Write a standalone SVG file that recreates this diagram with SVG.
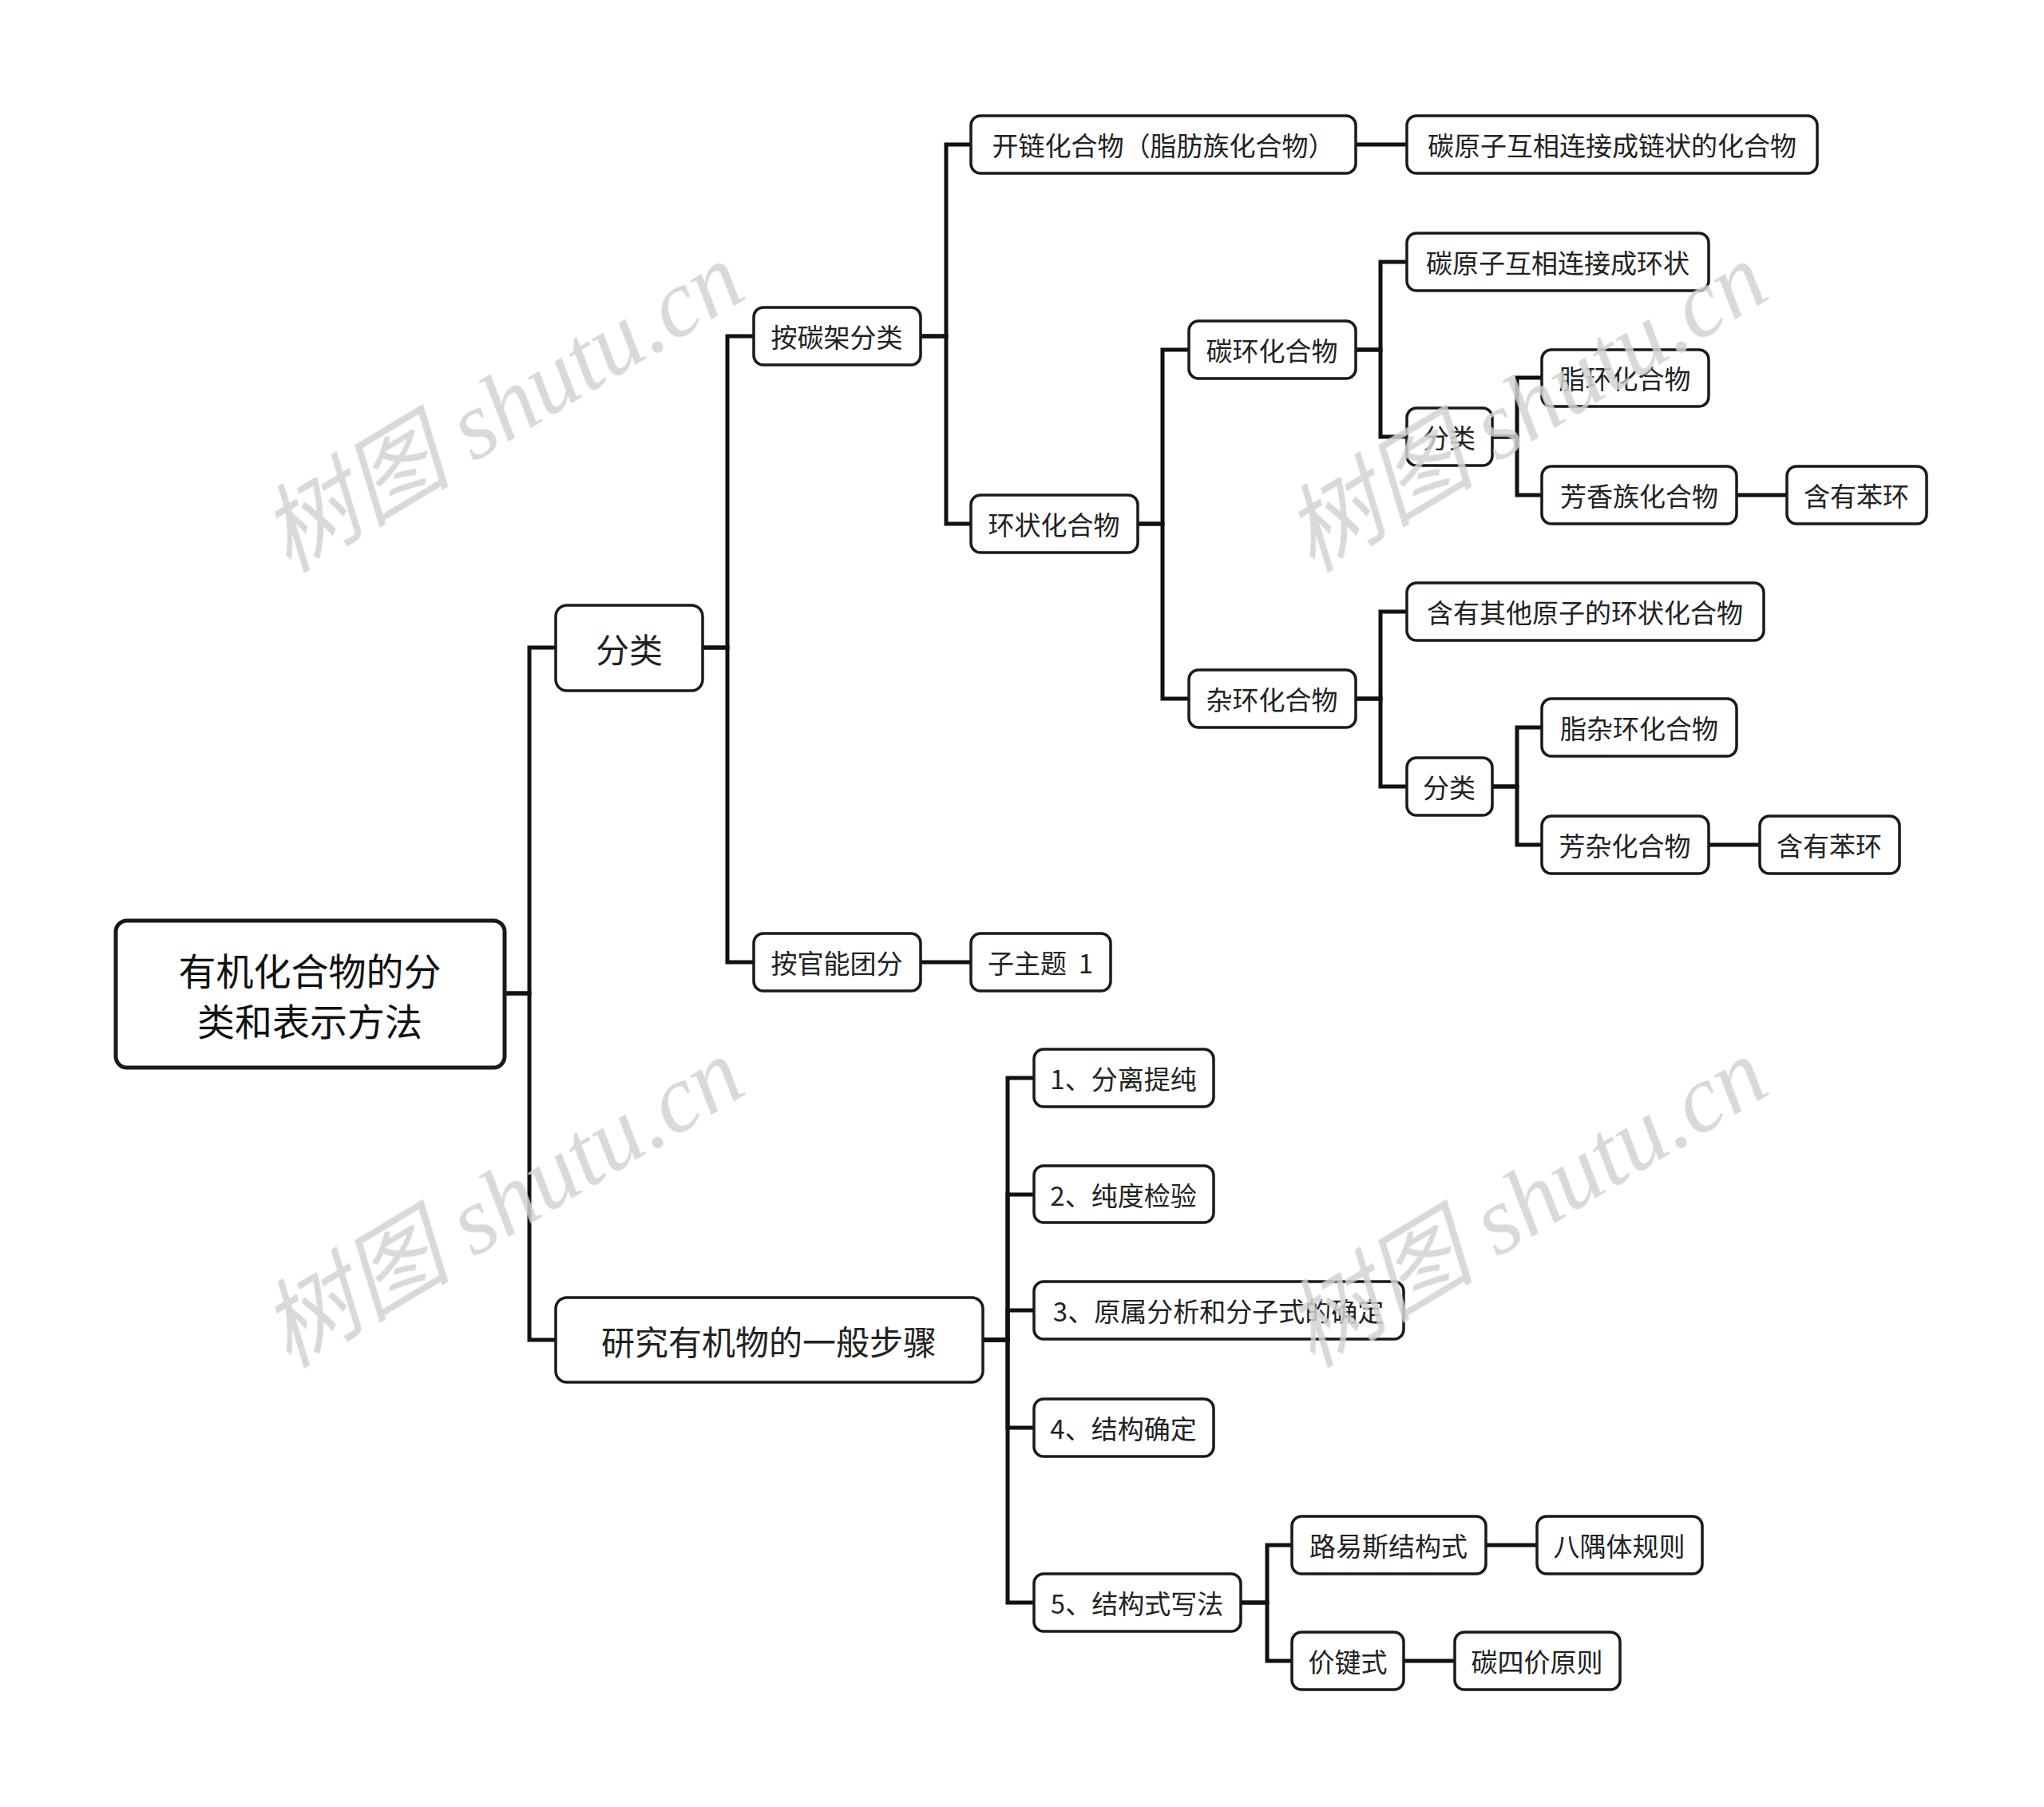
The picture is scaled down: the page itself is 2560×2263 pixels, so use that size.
<svg xmlns="http://www.w3.org/2000/svg" width="2560" height="2263" viewBox="0 0 2560 2263">
<style>
.n rect{fill:#fff;stroke:#1a1a1a;stroke-width:3.5}
.root rect{stroke-width:5}
.n text{font-family:"Noto Sans CJK SC","Liberation Sans",sans-serif;fill:#222;text-anchor:middle;dominant-baseline:central;font-size:33px}
.l1 text{font-size:42px}
.root text{font-size:47px;fill:#111}
.c path{fill:none;stroke:#111;stroke-width:5;stroke-linejoin:miter}
.wm{font-family:"Liberation Serif","Noto Sans CJK SC",serif;font-style:italic;font-size:120px;fill:#d2d2d2;opacity:0.85}
</style>
<rect width="2560" height="2263" fill="#fff"/>
<g id="connectors" class="c">
<path d="M632 1244 H663 V811 H696"/>
<path d="M632 1244 H663 V1678 H696"/>
<path d="M880 811 H911 V421 H944"/>
<path d="M880 811 H911 V1205 H944"/>
<path d="M1153 1205 H1216"/>
<path d="M1153 421 H1185 V181 H1216"/>
<path d="M1153 421 H1185 V656 H1216"/>
<path d="M1698 181 H1762"/>
<path d="M1425 656 H1456 V438 H1489"/>
<path d="M1425 656 H1456 V875 H1489"/>
<path d="M1698 438 H1729 V328 H1762"/>
<path d="M1698 438 H1729 V547 H1762"/>
<path d="M1869 547 H1900 V473 H1931"/>
<path d="M1869 547 H1900 V620 H1931"/>
<path d="M2175 620 H2238"/>
<path d="M1698 875 H1729 V766 H1762"/>
<path d="M1698 875 H1729 V985 H1762"/>
<path d="M1869 985 H1900 V911 H1931"/>
<path d="M1869 985 H1900 V1058 H1931"/>
<path d="M2140 1058 H2204"/>
<path d="M1231 1678 H1262 V1350 H1295"/>
<path d="M1231 1678 H1262 V1496 H1295"/>
<path d="M1231 1678 H1262 V1641 H1295"/>
<path d="M1231 1678 H1262 V1788 H1295"/>
<path d="M1231 1678 H1262 V2007 H1295"/>
<path d="M1554 2007 H1587 V1935 H1618"/>
<path d="M1554 2007 H1587 V2080 H1618"/>
<path d="M1861 1935 H1925"/>
<path d="M1758 2080 H1822"/>
</g>
<g id="root" class="n root"><rect x="145" y="1153" width="487" height="184" rx="14"/><text x="388" y="1213">有机化合物的分</text><text x="388" y="1276">类和表示方法</text></g>
<g id="n-fenlei" class="n l1"><rect x="696" y="758" width="184" height="107" rx="14"/><text x="788" y="811">分类</text></g>
<g id="n-yanjiu" class="n l1"><rect x="696" y="1625" width="535" height="106" rx="14"/><text x="963" y="1678">研究有机物的一般步骤</text></g>
<g id="n-tanjia" class="n"><rect x="944" y="385" width="209" height="72" rx="12"/><text x="1048" y="421">按碳架分类</text></g>
<g id="n-guanneng" class="n"><rect x="944" y="1169" width="209" height="72" rx="12"/><text x="1048" y="1205">按官能团分</text></g>
<g id="n-zizhuti" class="n"><rect x="1216" y="1169" width="175" height="72" rx="12"/><text x="1303" y="1205" xml:space="preserve">子主题  1</text></g>
<g id="n-kailian" class="n"><rect x="1216" y="145" width="482" height="72" rx="12"/><text x="1457" y="181">开链化合物（脂肪族化合物）</text></g>
<g id="n-lianzhuang" class="n"><rect x="1762" y="145" width="514" height="72" rx="12"/><text x="2019" y="181">碳原子互相连接成链状的化合物</text></g>
<g id="n-huanzhuang" class="n"><rect x="1216" y="620" width="209" height="72" rx="12"/><text x="1320" y="656">环状化合物</text></g>
<g id="n-tanhuan" class="n"><rect x="1489" y="402" width="209" height="72" rx="12"/><text x="1593" y="438">碳环化合物</text></g>
<g id="n-zahuan" class="n"><rect x="1489" y="839" width="209" height="72" rx="12"/><text x="1593" y="875">杂环化合物</text></g>
<g id="n-huanzhuang2" class="n"><rect x="1762" y="292" width="378" height="72" rx="12"/><text x="1951" y="328">碳原子互相连接成环状</text></g>
<g id="n-fenlei2" class="n"><rect x="1762" y="511" width="107" height="72" rx="12"/><text x="1815" y="547">分类</text></g>
<g id="n-zhihuan" class="n"><rect x="1931" y="438" width="209" height="71" rx="12"/><text x="2035" y="473">脂环化合物</text></g>
<g id="n-fangxiang" class="n"><rect x="1931" y="584" width="244" height="72" rx="12"/><text x="2053" y="620">芳香族化合物</text></g>
<g id="n-benhuan1" class="n"><rect x="2238" y="584" width="175" height="72" rx="12"/><text x="2325" y="620">含有苯环</text></g>
<g id="n-qitayuanzi" class="n"><rect x="1762" y="730" width="447" height="72" rx="12"/><text x="1985" y="766">含有其他原子的环状化合物</text></g>
<g id="n-fenlei3" class="n"><rect x="1762" y="949" width="107" height="72" rx="12"/><text x="1815" y="985">分类</text></g>
<g id="n-zhizahuan" class="n"><rect x="1931" y="875" width="244" height="72" rx="12"/><text x="2053" y="911">脂杂环化合物</text></g>
<g id="n-fangza" class="n"><rect x="1931" y="1022" width="209" height="72" rx="12"/><text x="2035" y="1058">芳杂化合物</text></g>
<g id="n-benhuan2" class="n"><rect x="2204" y="1022" width="175" height="72" rx="12"/><text x="2291" y="1058">含有苯环</text></g>
<g id="n-s1" class="n"><rect x="1295" y="1314" width="225" height="72" rx="12"/><text x="1407" y="1350">1、分离提纯</text></g>
<g id="n-s2" class="n"><rect x="1295" y="1460" width="225" height="71" rx="12"/><text x="1407" y="1496">2、纯度检验</text></g>
<g id="n-s3" class="n"><rect x="1295" y="1605" width="463" height="72" rx="12"/><text x="1526" y="1641">3、原属分析和分子式的确定</text></g>
<g id="n-s4" class="n"><rect x="1295" y="1752" width="225" height="72" rx="12"/><text x="1407" y="1788">4、结构确定</text></g>
<g id="n-s5" class="n"><rect x="1295" y="1971" width="259" height="72" rx="12"/><text x="1424" y="2007">5、结构式写法</text></g>
<g id="n-luyisi" class="n"><rect x="1618" y="1899" width="243" height="72" rx="12"/><text x="1739" y="1935">路易斯结构式</text></g>
<g id="n-bayu" class="n"><rect x="1925" y="1899" width="207" height="72" rx="12"/><text x="2028" y="1935">八隅体规则</text></g>
<g id="n-jiajian" class="n"><rect x="1618" y="2044" width="140" height="72" rx="12"/><text x="1688" y="2080">价键式</text></g>
<g id="n-siji" class="n"><rect x="1822" y="2044" width="207" height="72" rx="12"/><text x="1925" y="2080">碳四价原则</text></g>
<g id="watermarks" class="wm" text-anchor="middle">
<text transform="translate(650 545) rotate(-31)">树图 shutu.cn</text>
<text transform="translate(1932 545) rotate(-31)">树图 shutu.cn</text>
<text transform="translate(650 1541) rotate(-31)">树图 shutu.cn</text>
<text transform="translate(1932 1541) rotate(-31)">树图 shutu.cn</text>
</g>
</svg>
